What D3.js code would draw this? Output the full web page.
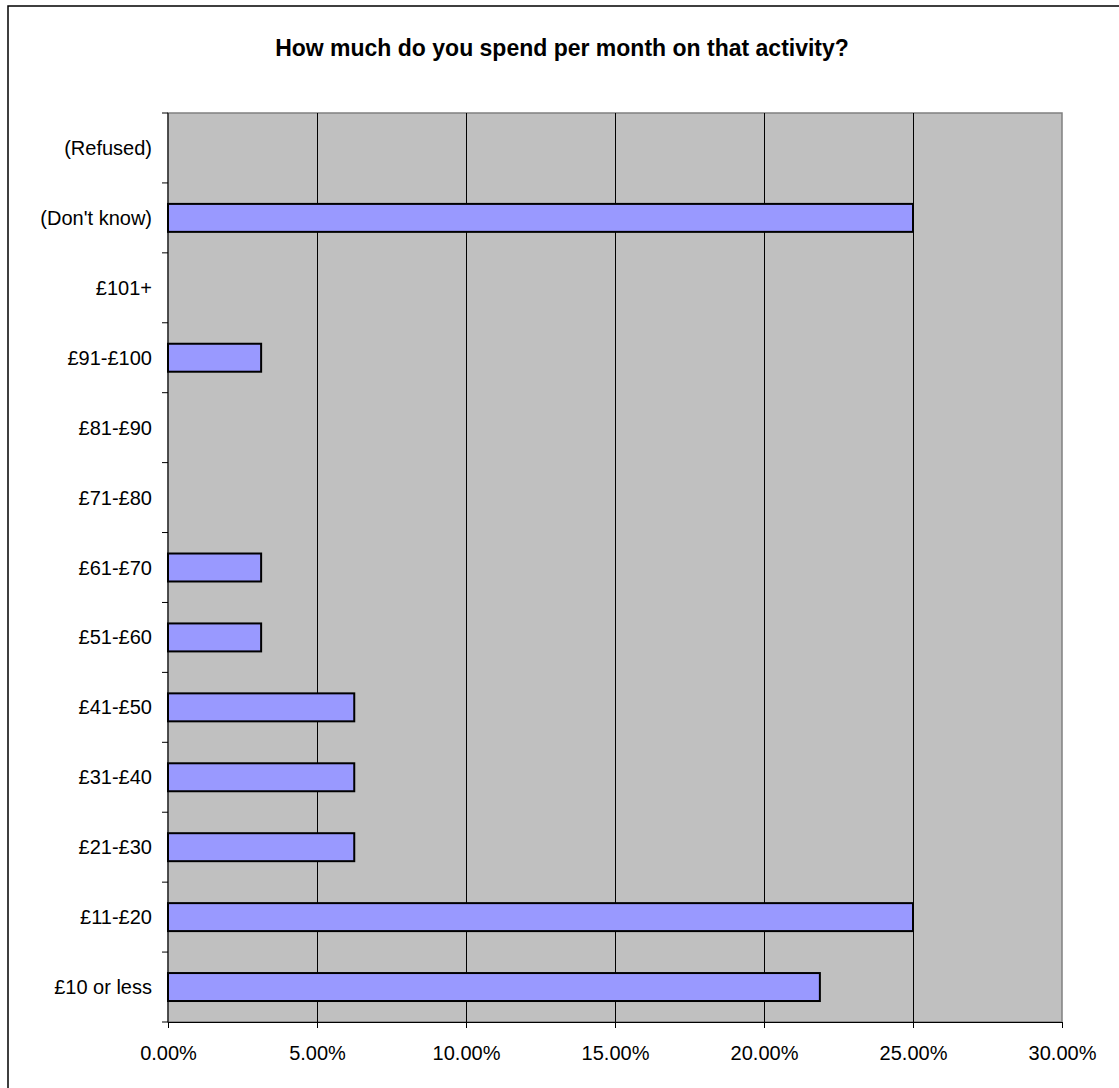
<!DOCTYPE html>
<html><head><meta charset="utf-8">
<script src="https://cdn.jsdelivr.net/npm/d3@7"></script>
<style>body{margin:0;background:#fff}svg{display:block}text{font-family:"Liberation Sans",Arial,sans-serif}</style>
</head><body>
<script>
const title = "How much do you spend per month on that activity?";
const categories = ["(Refused)","(Don't know)","£101+","£91-£100","£81-£90","£71-£80","£61-£70","£51-£60","£41-£50","£31-£40","£21-£30","£11-£20","£10 or less"];
const values = [0, 0.25, 0, 0.03125, 0, 0, 0.03125, 0.03125, 0.0625, 0.0625, 0.0625, 0.25, 0.21875];
const xTicks = [0, 0.05, 0.10, 0.15, 0.20, 0.25, 0.30];

const W = 1119, H = 1088;
const m = {left:168, top:113, right:1062, bottom:1022};
const svg = d3.select("body").append("svg").attr("width", W).attr("height", H);

svg.append("rect").attr("x", 8).attr("y", 6).attr("width", W + 20).attr("height", H + 20)
  .attr("fill", "#fff").attr("stroke", "#000").attr("stroke-width", 1.5);

svg.append("text").attr("x", 562).attr("y", 56).attr("text-anchor", "middle")
  .attr("font-weight", "bold").attr("font-size", 23).text(title);

const x = d3.scaleLinear().domain([0, 0.30]).range([m.left, m.right]);
const y = d3.scaleBand().domain(categories).range([m.top, m.bottom]).paddingInner(0.6).paddingOuter(0.3);
const yb = d3.scaleBand().domain(categories).range([m.top, m.bottom]);

svg.append("rect").attr("x", m.left).attr("y", m.top).attr("width", m.right - m.left).attr("height", m.bottom - m.top)
  .attr("fill", "#c0c0c0").attr("stroke", "#808080").attr("stroke-width", 1.5);

svg.append("g").selectAll("line").data(xTicks.slice(1, -1)).join("line")
  .attr("x1", d => Math.round(x(d)) + 0.5).attr("x2", d => Math.round(x(d)) + 0.5).attr("y1", m.top).attr("y2", m.bottom)
  .attr("stroke", "#000").attr("stroke-width", 1);

svg.append("g").selectAll("rect").data(categories.map((c, i) => ({c, v: values[i]})).filter(d => d.v > 0)).join("rect")
  .attr("x", x(0)).attr("y", d => y(d.c)).attr("width", d => x(d.v) - x(0)).attr("height", y.bandwidth())
  .attr("fill", "#9999ff").attr("stroke", "#000").attr("stroke-width", 2);

// x axis
const xa = svg.append("g").attr("transform", `translate(0,${m.bottom})`)
  .call(d3.axisBottom(x).tickValues(xTicks).tickFormat(d3.format(".2%")).tickSize(6).tickPadding(18));
xa.select(".domain").attr("stroke", "#000");
xa.selectAll("text").attr("font-size", 20).attr("fill", "#000").attr("font-family", "Liberation Sans, Arial, sans-serif");

// y axis: ticks at band boundaries
const ya = svg.append("g").attr("transform", `translate(${m.left},0)`);
ya.append("line").attr("x1", 0).attr("x2", 0).attr("y1", m.top).attr("y2", m.bottom).attr("stroke", "#000");
const bounds = categories.map(c => yb(c)).concat([m.bottom]);
ya.selectAll("line.t").data(bounds).join("line").attr("class", "t")
  .attr("x1", -6).attr("x2", 0).attr("y1", d => d).attr("y2", d => d).attr("stroke", "#000");
ya.selectAll("text").data(categories).join("text")
  .attr("x", -16).attr("y", d => yb(d) + yb.bandwidth() / 2).attr("dy", "0.35em")
  .attr("text-anchor", "end").attr("font-size", 20).text(d => d);
</script>
</body></html>
